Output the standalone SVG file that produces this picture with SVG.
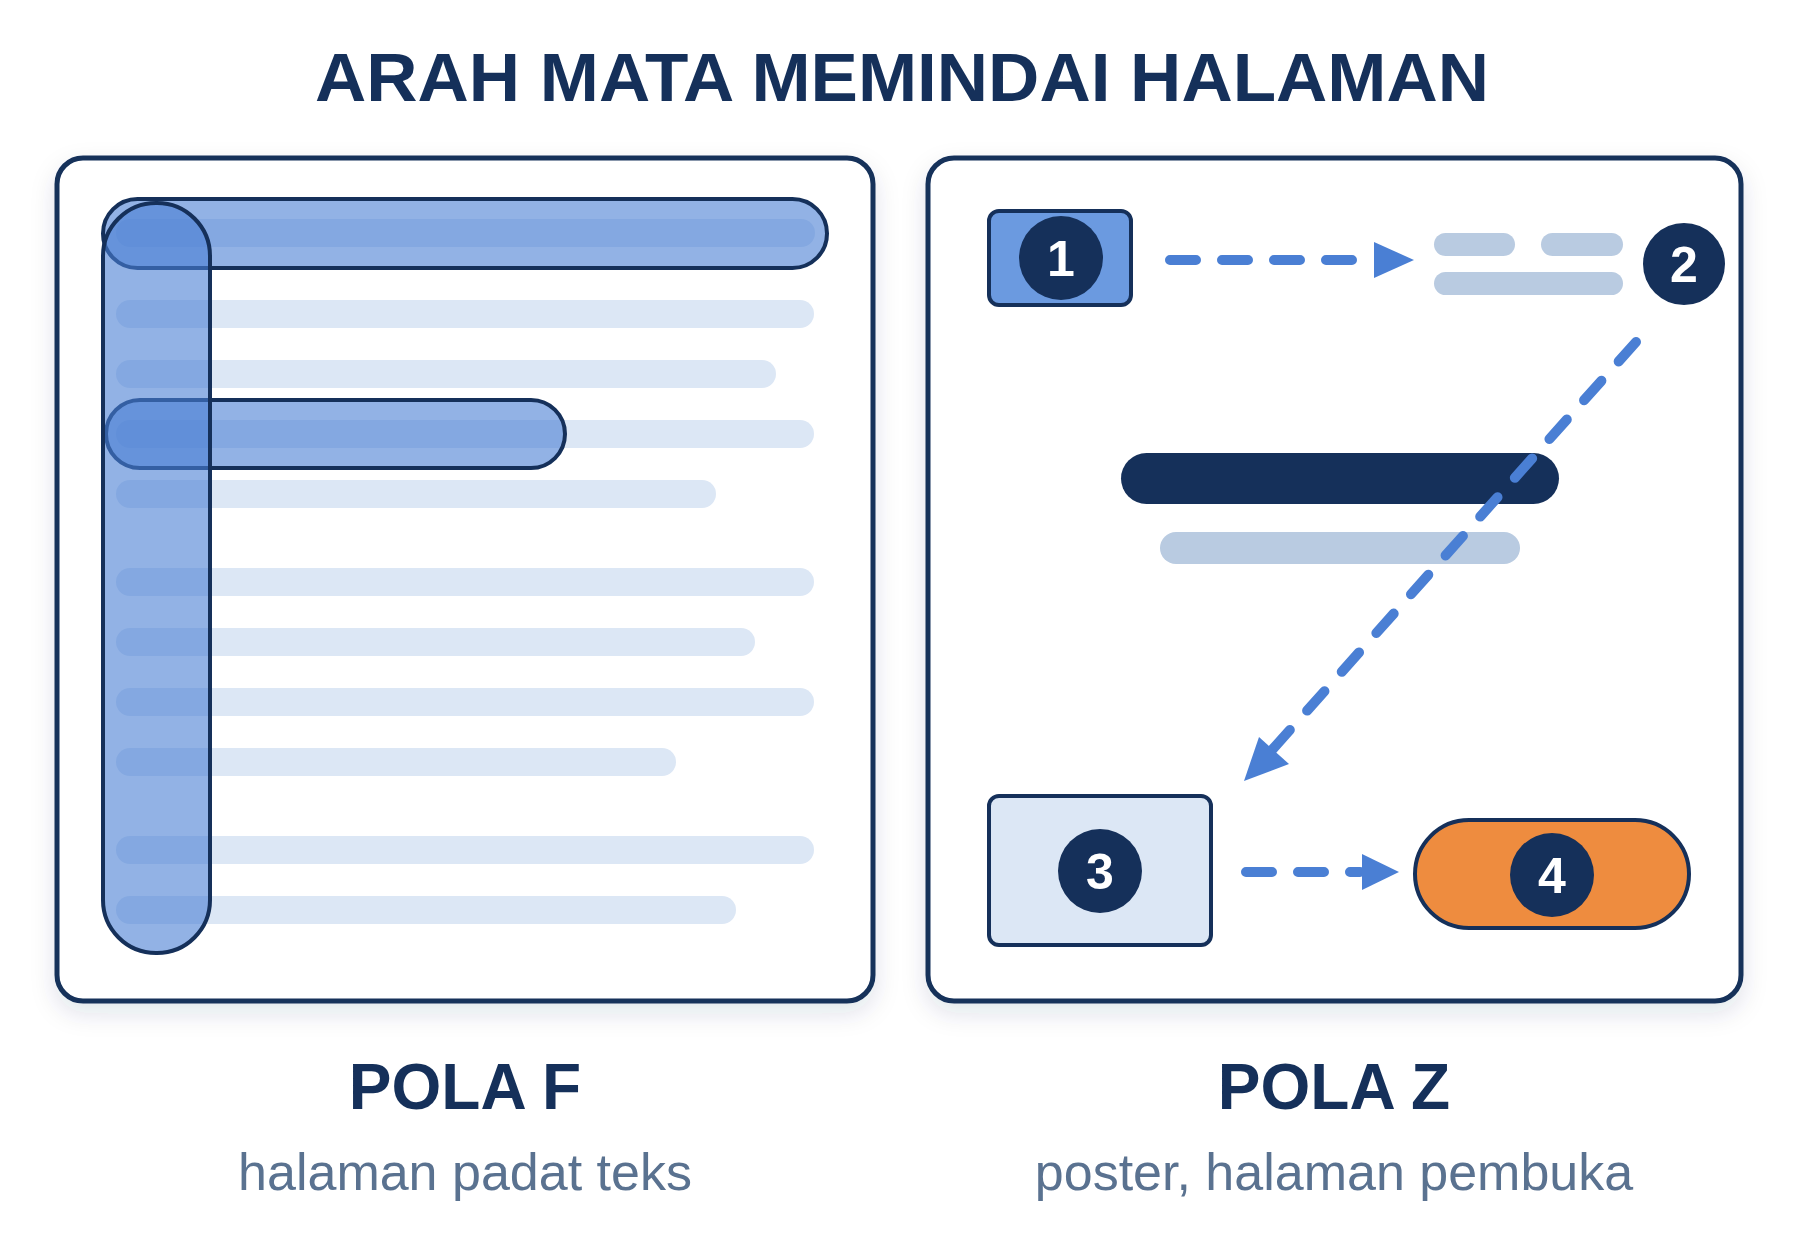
<svg xmlns="http://www.w3.org/2000/svg" width="1800" height="1260" viewBox="0 0 1800 1260">
<defs>
<filter id="sh" x="-10%" y="-10%" width="120%" height="125%"><feDropShadow dx="0" dy="10" stdDeviation="12" flood-color="#15305a" flood-opacity="0.12"/></filter>
<marker id="ah" viewBox="0 0 10 10" refX="1" refY="5" markerWidth="4" markerHeight="4" orient="auto" markerUnits="strokeWidth"><path d="M0,0 L10,5 L0,10 z" fill="#4a7fd4"/></marker>
</defs>
<style>
.panel{fill:#fff;stroke:#15305a;stroke-width:5}
.ln{fill:#dce7f5}
.hl{fill:#4a7fd4;fill-opacity:0.6;stroke:#15305a;stroke-width:4}
.num{fill:#15305a}
.nt{font-family:"Liberation Sans",Arial,sans-serif;font-weight:bold;font-size:50px;fill:#fff;text-anchor:middle}
.con{fill:none;stroke:#4a7fd4;stroke-width:10;stroke-linecap:round;stroke-dasharray:26 26}
.ttl{font-family:"Liberation Sans",Arial,sans-serif;font-weight:bold;fill:#15305a;text-anchor:middle}
.sub{font-family:"Liberation Sans",Arial,sans-serif;fill:#5a7290;text-anchor:middle;font-size:52px}
.gr{fill:#b9cbe1}
</style>
<rect width="1800" height="1260" fill="#fff"/>
<text class="ttl" x="902" y="101" font-size="68" textLength="1174" lengthAdjust="spacingAndGlyphs">ARAH MATA MEMINDAI HALAMAN</text>

<g id="panelF">
<rect class="panel" x="57" y="158" width="816" height="843" rx="26" filter="url(#sh)"/>
<rect class="ln" x="116" y="219" width="699" height="28" rx="14"/>
<rect class="ln" x="116" y="300" width="698" height="28" rx="14"/>
<rect class="ln" x="116" y="360" width="660" height="28" rx="14"/>
<rect class="ln" x="116" y="420" width="698" height="28" rx="14"/>
<rect class="ln" x="116" y="480" width="600" height="28" rx="14"/>
<rect class="ln" x="116" y="568" width="698" height="28" rx="14"/>
<rect class="ln" x="116" y="628" width="639" height="28" rx="14"/>
<rect class="ln" x="116" y="688" width="698" height="28" rx="14"/>
<rect class="ln" x="116" y="748" width="560" height="28" rx="14"/>
<rect class="ln" x="116" y="836" width="698" height="28" rx="14"/>
<rect class="ln" x="116" y="896" width="620" height="28" rx="14"/>
<rect class="hl" x="103" y="199" width="724" height="69" rx="34.5"/>
<rect class="hl" x="106" y="400" width="459" height="68" rx="34"/>
<rect class="hl" x="103" y="203" width="107" height="750" rx="53"/>
</g>
<text class="ttl" x="465" y="1109" font-size="64">POLA F</text>
<text class="sub" x="465" y="1190">halaman padat teks</text>

<g id="panelZ">
<rect class="panel" x="928" y="158" width="813" height="843" rx="26" filter="url(#sh)"/>
<rect class="gr" x="1434" y="233" width="81" height="23" rx="11.5"/>
<rect class="gr" x="1541" y="233" width="82" height="23" rx="11.5"/>
<rect class="gr" x="1434" y="272" width="189" height="23" rx="11.5"/>
<rect fill="#15305a" x="1121" y="453" width="438" height="51" rx="25.5"/>
<rect class="gr" x="1160" y="532" width="360" height="32" rx="16"/>
</g>
<g id="n1">
<rect x="989" y="211" width="142" height="94" rx="10" fill="#6b9ae0" stroke="#15305a" stroke-width="4"/>
<circle class="num" cx="1061" cy="258" r="42"/>
<text class="nt" x="1061" y="276">1</text>
</g>
<g id="n2">
<circle class="num" cx="1684" cy="264" r="41"/>
<text class="nt" x="1684" y="282">2</text>
</g>
<g id="n3">
<rect x="989" y="796" width="222" height="149" rx="10" fill="#dce7f5" stroke="#15305a" stroke-width="4"/>
<circle class="num" cx="1100" cy="871" r="42"/>
<text class="nt" x="1100" y="889">3</text>
</g>
<g id="n4">
<rect x="1415" y="820" width="274" height="108" rx="54" fill="#ee8c3f" stroke="#15305a" stroke-width="4"/>
<circle class="num" cx="1552" cy="875" r="42"/>
<text class="nt" x="1552" y="893">4</text>
</g>
<g id="connectors">
<path class="con" d="M1170,260 L1362,260"/>
<path d="M1374,242 L1414,260 L1374,278 z" fill="#4a7fd4"/>
<path class="con" d="M1636,342 L1272,750"/>
<path d="M1244,781 L1259,737 L1289,764 z" fill="#4a7fd4"/>
<path class="con" d="M1246,872 L1360,872"/>
<path d="M1362,854 L1399,872 L1362,890 z" fill="#4a7fd4"/>
</g>
<text class="ttl" x="1334" y="1109" font-size="64">POLA Z</text>
<text class="sub" x="1334" y="1190">poster, halaman pembuka</text>
</svg>
